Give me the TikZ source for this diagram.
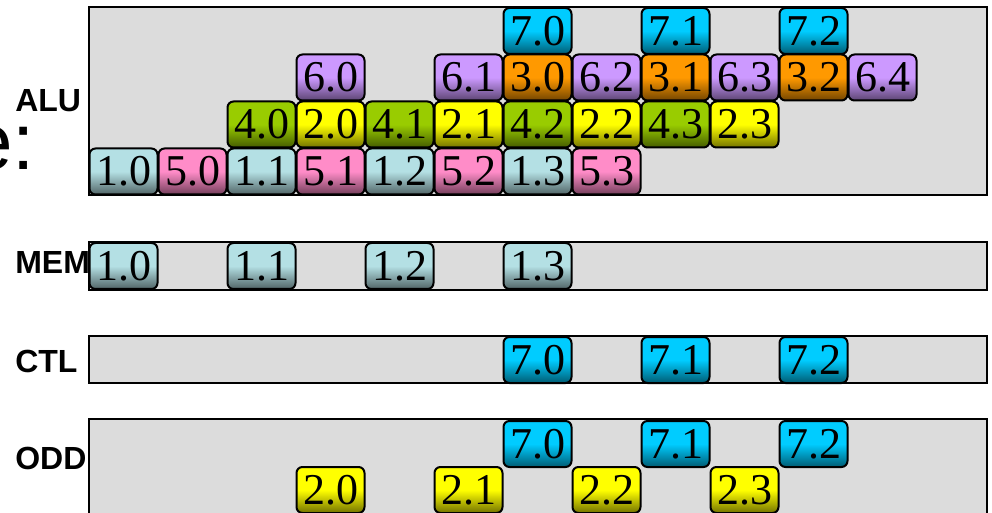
\documentclass[tikz,border=0pt]{standalone}
\usepackage{fontspec}
\setmainfont{Liberation Serif}
\newfontfamily\labfont{Liberation Sans}
\definecolor{lanegrey}{HTML}{DCDCDC}
\definecolor{cone}{HTML}{B4E0E4}
\definecolor{cfive}{HTML}{FF8CC8}
\definecolor{cfour}{HTML}{99CC00}
\definecolor{ctwo}{HTML}{FFFF00}
\definecolor{csix}{HTML}{CC99FF}
\definecolor{cthree}{HTML}{FF9900}
\definecolor{cseven}{HTML}{00CCFF}
\tikzset{
  lane/.style={draw=black, fill=lanegrey, line width=1.5pt},
  cellbox/.style={draw=black, line width=1.5pt, rounded corners=4.5pt,
    minimum width=51pt, minimum height=34.5pt, inner sep=0pt,
    font=\fontsize{33}{33}\selectfont},
  lablabel/.style={anchor=base west, inner sep=0pt, font=\labfont\bfseries\fontsize{24}{24}\selectfont}
}
\newcommand\cellnode[5]{\node[cellbox, top color=#4, bottom color=#4!45!black, middle color=#4] (#1) at ({89+69*#2+34.5},#3) {#5};}
\begin{document}
\begin{tikzpicture}[x=0.75pt,y=-0.75pt]
\useasboundingbox (0,0) rectangle (992,513);
% big partially hidden text
\node[anchor=base east, inner sep=0pt, font=\labfont\fontsize{60}{60}\selectfont] (etext) at (35,170) {e:};
% lanes
\draw[lane] (89,7) rectangle (987,195);
\draw[lane] (89,242) rectangle (987,290);
\draw[lane] (89,336) rectangle (987,383);
\draw[lane] (89,419) rectangle (987,520);
% ALU row 0
\cellnode{a10}{0}{171.5}{cone}{1.0}
\cellnode{a50}{1}{171.5}{cfive}{5.0}
\cellnode{a11}{2}{171.5}{cone}{1.1}
\cellnode{a51}{3}{171.5}{cfive}{5.1}
\cellnode{a12}{4}{171.5}{cone}{1.2}
\cellnode{a52}{5}{171.5}{cfive}{5.2}
\cellnode{a13}{6}{171.5}{cone}{1.3}
\cellnode{a53}{7}{171.5}{cfive}{5.3}
% ALU row 1
\cellnode{a40}{2}{124.5}{cfour}{4.0}
\cellnode{a20}{3}{124.5}{ctwo}{2.0}
\cellnode{a41}{4}{124.5}{cfour}{4.1}
\cellnode{a21}{5}{124.5}{ctwo}{2.1}
\cellnode{a42}{6}{124.5}{cfour}{4.2}
\cellnode{a22}{7}{124.5}{ctwo}{2.2}
\cellnode{a43}{8}{124.5}{cfour}{4.3}
\cellnode{a23}{9}{124.5}{ctwo}{2.3}
% ALU row 2
\cellnode{a60}{3}{77.5}{csix}{6.0}
\cellnode{a61}{5}{77.5}{csix}{6.1}
\cellnode{a30}{6}{77.5}{cthree}{3.0}
\cellnode{a62}{7}{77.5}{csix}{6.2}
\cellnode{a31}{8}{77.5}{cthree}{3.1}
\cellnode{a63}{9}{77.5}{csix}{6.3}
\cellnode{a32}{10}{77.5}{cthree}{3.2}
\cellnode{a64}{11}{77.5}{csix}{6.4}
% ALU row 3
\cellnode{a70}{6}{31}{cseven}{7.0}
\cellnode{a71}{8}{31}{cseven}{7.1}
\cellnode{a72}{10}{31}{cseven}{7.2}
% MEM
\cellnode{m10}{0}{266}{cone}{1.0}
\cellnode{m11}{2}{266}{cone}{1.1}
\cellnode{m12}{4}{266}{cone}{1.2}
\cellnode{m13}{6}{266}{cone}{1.3}
% CTL
\cellnode{c70}{6}{360}{cseven}{7.0}
\cellnode{c71}{8}{360}{cseven}{7.1}
\cellnode{c72}{10}{360}{cseven}{7.2}
% ODD
\cellnode{o70}{6}{444}{cseven}{7.0}
\cellnode{o71}{8}{444}{cseven}{7.1}
\cellnode{o72}{10}{444}{cseven}{7.2}
\cellnode{o20}{3}{490}{ctwo}{2.0}
\cellnode{o21}{5}{490}{ctwo}{2.1}
\cellnode{o22}{7}{490}{ctwo}{2.2}
\cellnode{o23}{9}{490}{ctwo}{2.3}
% labels
\node[lablabel] (alu) at (15,111.5) {ALU};
\node[lablabel] (mem) at (15,274) {MEM};
\node[lablabel] (ctl) at (15,372.5) {CTL};
\node[lablabel] (odd) at (15,469) {ODD};
\end{tikzpicture}
\end{document}
